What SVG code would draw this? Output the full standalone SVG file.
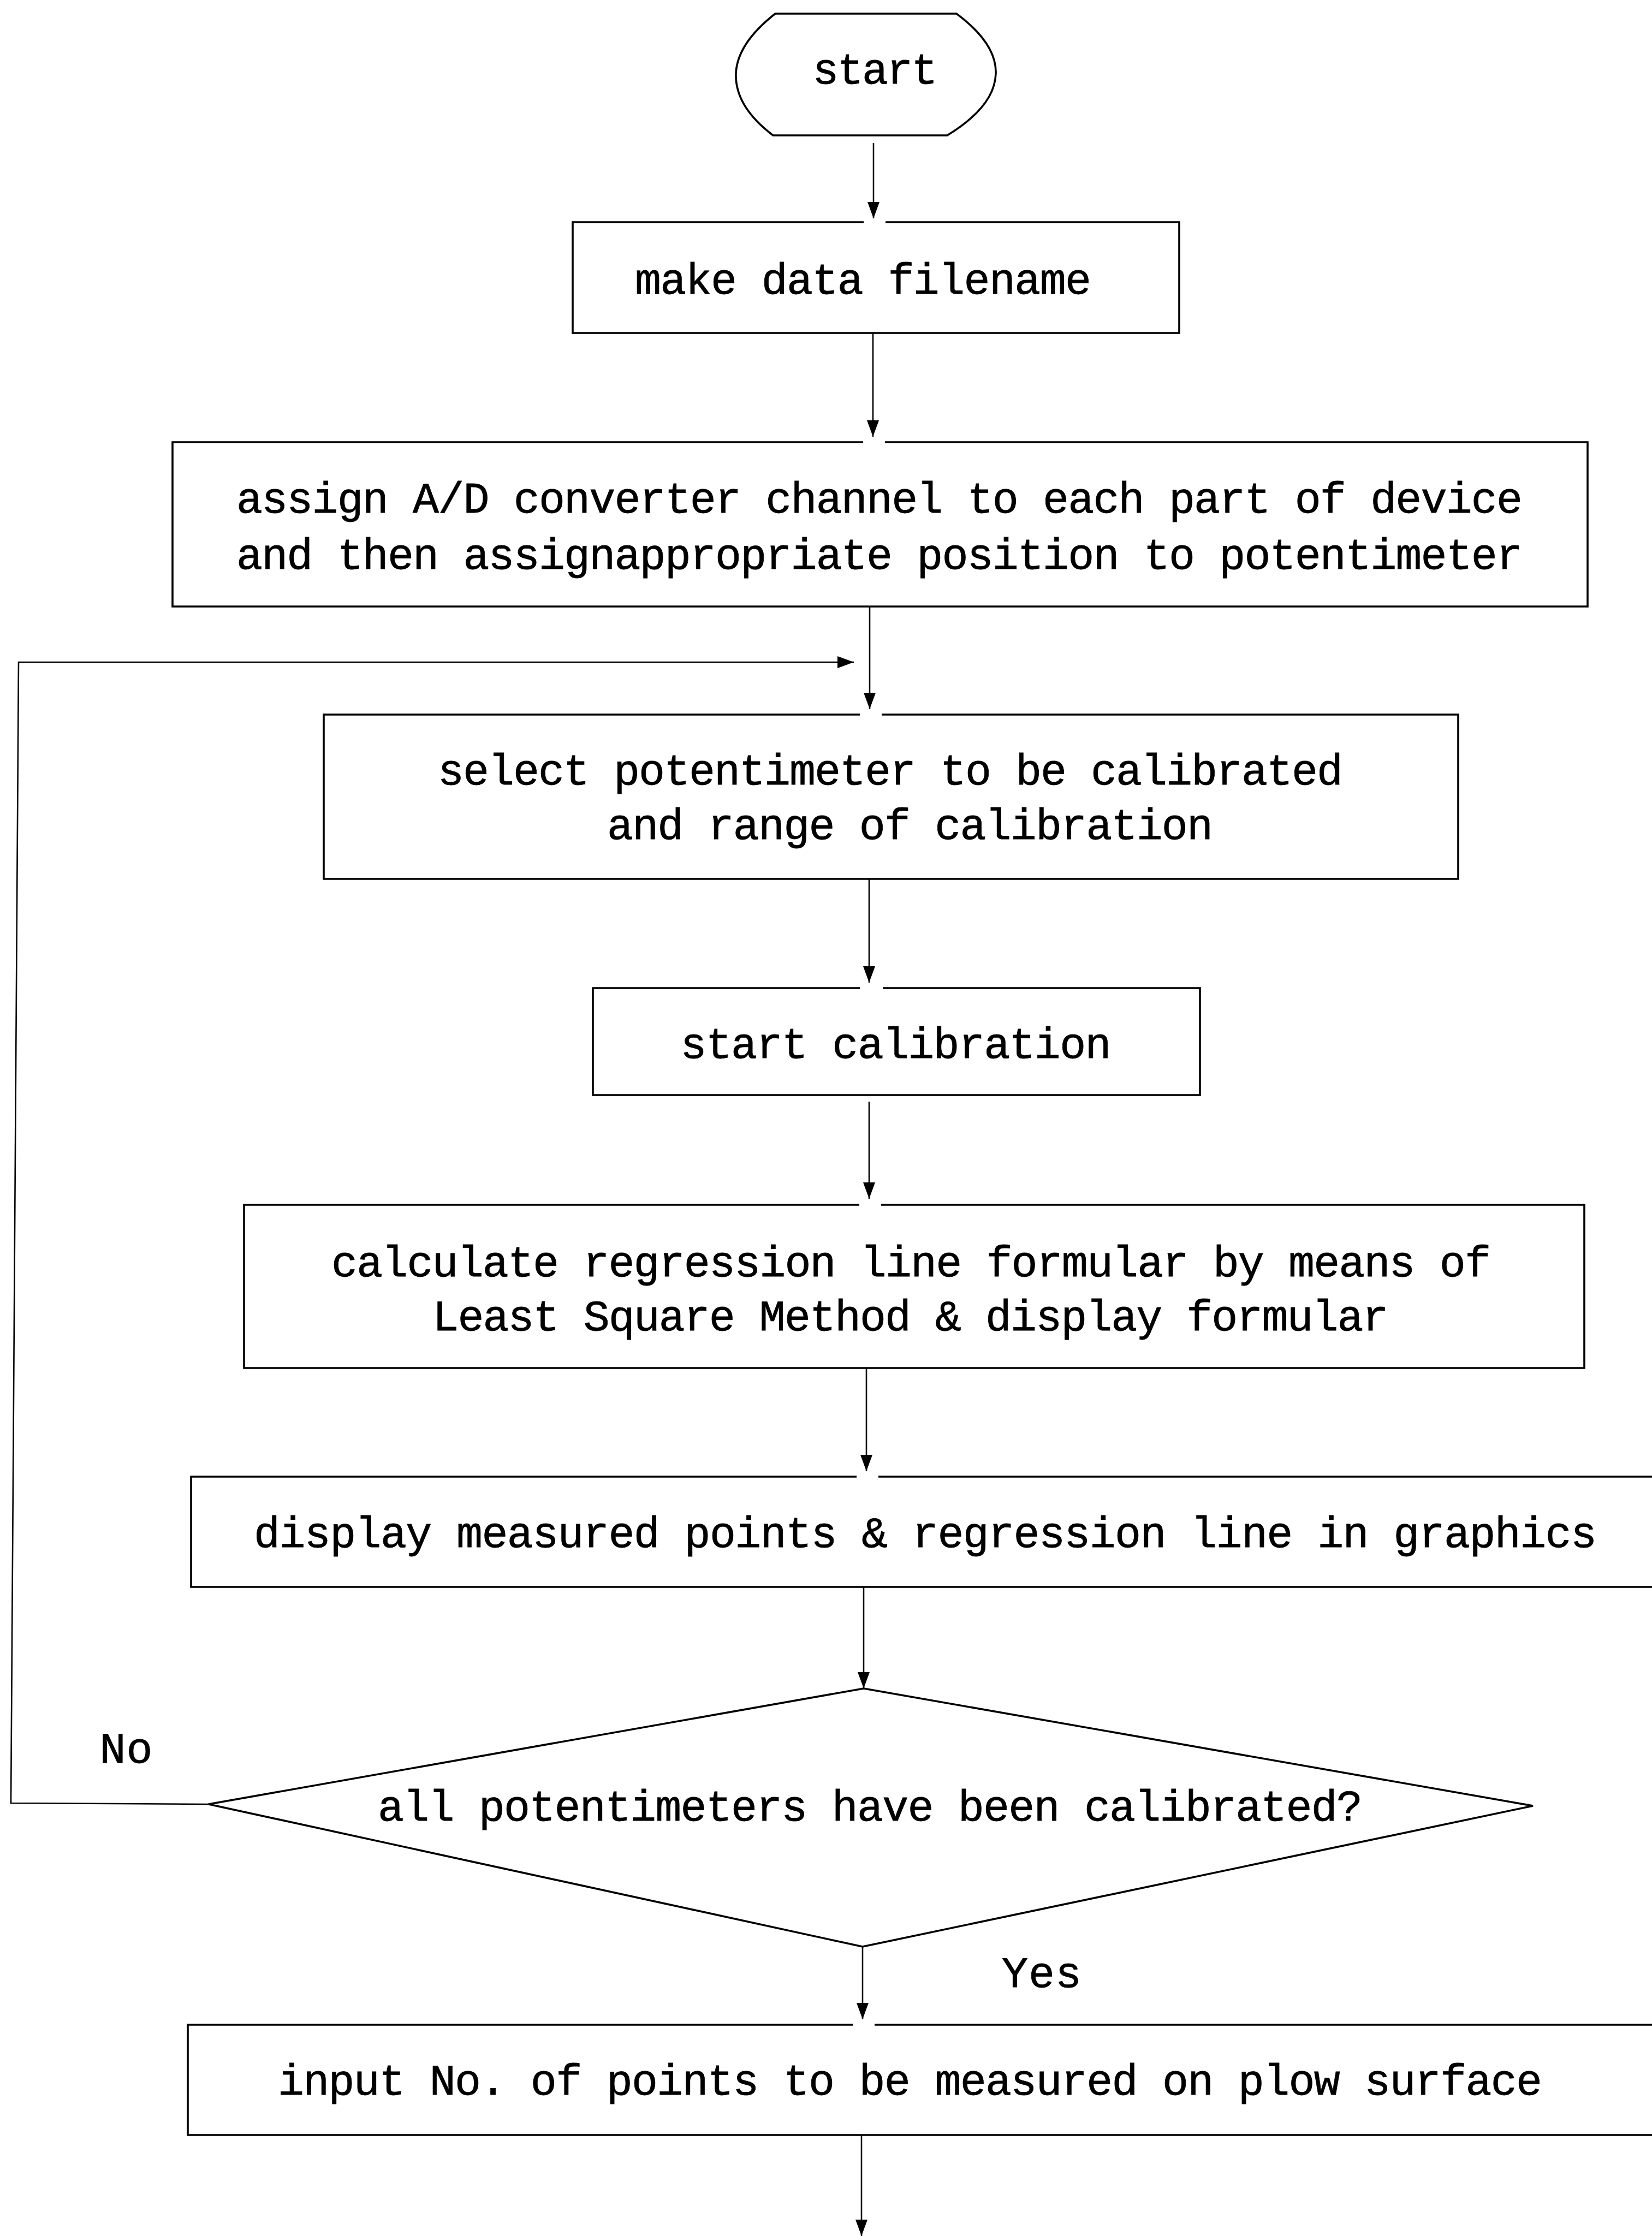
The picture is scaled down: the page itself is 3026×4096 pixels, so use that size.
<svg xmlns="http://www.w3.org/2000/svg" width="3026" height="4096" viewBox="0 0 3026 4096">
  <style>
    .shape { fill: none; stroke: #000; stroke-width: 3.6; stroke-linejoin: miter; }
    .wire { fill: none; stroke: #000; stroke-width: 2.6; }
    .lbl { font-family: "Liberation Mono", "DejaVu Sans Mono", monospace; font-size: 80px; fill: #000; stroke: #000; stroke-width: 0.8; text-anchor: middle; }
  </style>
  <defs>
    <marker id="head" markerUnits="userSpaceOnUse" markerWidth="32" markerHeight="24" refX="30" refY="12" orient="auto">
      <path d="M0,1 L30,12 L0,23 Z" fill="#000"/>
    </marker>
  </defs>
  <rect width="3026" height="4096" fill="#fff"/>

  <!-- flow connectors -->
  <g id="connectors">
    <line class="wire" x1="1600" y1="262" x2="1600" y2="400" marker-end="url(#head)"/>
    <line class="wire" x1="1599" y1="610" x2="1599" y2="800" marker-end="url(#head)"/>
    <line class="wire" x1="1593" y1="1111" x2="1593" y2="1299" marker-end="url(#head)"/>
    <line class="wire" x1="1592" y1="1610" x2="1592" y2="1800" marker-end="url(#head)"/>
    <line class="wire" x1="1592" y1="2018" x2="1592" y2="2196" marker-end="url(#head)"/>
    <line class="wire" x1="1587" y1="2506" x2="1587" y2="2695" marker-end="url(#head)"/>
    <line class="wire" x1="1582" y1="2907" x2="1582" y2="3093" marker-end="url(#head)"/>
    <line class="wire" x1="1580" y1="3566" x2="1580" y2="3699" marker-end="url(#head)"/>
    <line class="wire" x1="1578" y1="3911" x2="1578" y2="4096" marker-end="url(#head)"/>
    <!-- "No" branch loops back above the selection step -->
    <polyline class="wire" points="382,3305 20,3303 34,1213 1564,1213" marker-end="url(#head)"/>
  </g>

  <g id="node-start">
    <path class="shape" d="M1420,25 L1752,25 Q1826,80 1824,135 Q1822,195 1735,248 L1416,248 Q1346,195 1348,135 Q1350,80 1420,25 Z"/>
    <text class="lbl" x="1603" y="153" textLength="229">start</text>
  </g>

  <g id="node-filename">
    <path class="shape" d="M1622,407 H2160 V610 H1049 V407 H1582"/>
    <text class="lbl" x="1581" y="538" textLength="836">make data filename</text>
  </g>

  <g id="node-assign">
    <path class="shape" d="M1621,810 H2908 V1111 H316 V810 H1581"/>
    <text class="lbl" x="1611" y="939" textLength="2356">assign A/D converter channel to each part of device</text>
    <text class="lbl" x="1611" y="1042" textLength="2356">and then assignappropriate position to potentimeter</text>
  </g>

  <g id="node-select">
    <path class="shape" d="M1615,1309 H2671 V1610 H593 V1309 H1575"/>
    <text class="lbl" x="1631" y="1437" textLength="1658">select potentimeter to be calibrated</text>
    <text class="lbl" x="1667" y="1537" textLength="1110">and range of calibration</text>
  </g>

  <g id="node-start-calibration">
    <path class="shape" d="M1617,1810 H2198 V2006 H1086 V1810 H1575"/>
    <text class="lbl" x="1641" y="1938" textLength="789">start calibration</text>
  </g>

  <g id="node-regression">
    <path class="shape" d="M1614,2207 H2902 V2506 H447 V2207 H1574"/>
    <text class="lbl" x="1669" y="2338" textLength="2124">calculate regression line formular by means of</text>
    <text class="lbl" x="1668" y="2437" textLength="1751">Least Square Method &amp; display formular</text>
  </g>

  <g id="node-display">
    <path class="shape" d="M1609,2705 H3100 V2907 H350 V2705 H1569"/>
    <text class="lbl" x="1695" y="2834" textLength="2460">display measured points &amp; regression line in graphics</text>
  </g>

  <g id="node-decision">
    <polygon class="shape" points="1582,3093 2808,3308 1580,3566 382,3305"/>
    <text class="lbl" x="1594" y="3335" textLength="1804">all potentimeters have been calibrated?</text>
  </g>

  <g id="branch-labels">
    <text class="lbl" x="231" y="3229" textLength="97">No</text>
    <text class="lbl" x="1908" y="3640" textLength="146">Yes</text>
  </g>

  <g id="node-input-points">
    <path class="shape" d="M1602,3709 H3100 V3911 H344 V3709 H1562"/>
    <text class="lbl" x="1667" y="3837" textLength="2316">input No. of points to be measured on plow surface</text>
  </g>
</svg>
